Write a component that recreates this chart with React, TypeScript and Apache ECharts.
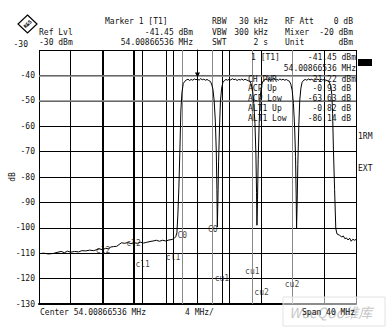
import React, { useEffect, useRef } from "react";
import * as echarts from "echarts";

// ---- data (frequency offset from centre in MHz, level in dBm) ----
const yTicks = [-130, -120, -110, -100, -90, -80, -70, -60, -50, -40, -30];

const noiseLow: [number, number][] = [
  [-20.0, -110.2], [-19.4, -110.0], [-18.8, -110.3], [-18.2, -110.1], [-17.6, -109.6], [-17.2, -109.3],
  [-16.8, -109.8], [-16.4, -109.2], [-16.0, -109.6], [-15.5, -109.3], [-15.0, -109.5], [-14.6, -109.0],
  [-14.1, -109.1], [-13.6, -108.8], [-13.1, -109.0], [-12.8, -108.7], [-12.4, -108.3], [-12.0, -108.6],
  [-11.6, -108.1], [-11.2, -108.3], [-11.0, -107.6], [-10.6, -107.4], [-10.2, -107.3], [-9.9, -106.6],
  [-9.6, -105.9], [-9.2, -106.1], [-8.8, -105.8], [-8.4, -106.2], [-8.0, -105.9], [-7.6, -106.1],
  [-7.2, -105.7], [-6.8, -106.0], [-6.4, -105.7], [-6.0, -105.4], [-5.6, -105.2], [-5.2, -104.9],
  [-4.8, -105.3], [-4.4, -104.9], [-4.0, -105.2], [-3.6, -104.8], [-3.2, -104.6], [-2.95, -104.2],
  [-2.75, -103.5],
];
const carrier1: [number, number][] = [
  [-2.6, -102.0], [-2.48, -95], [-2.35, -84], [-2.22, -69], [-2.1, -54], [-1.97, -47], [-1.8, -43.2],
  [-1.6, -42.3], [-1.4, -41.8], [-1.2, -41.5], [-1.0, -42.0], [-0.8, -41.6], [-0.6, -41.9], [-0.4, -41.4],
  [-0.2, -41.7], [0.0, -41.45], [0.2, -41.9], [0.4, -41.3], [0.6, -41.7], [0.8, -41.5], [1.0, -41.9],
  [1.2, -41.6], [1.4, -42.0], [1.6, -42.3], [1.78, -43.4], [1.95, -45.5], [2.1, -50], [2.25, -58],
  [2.37, -70], [2.45, -85], [2.5, -99.7],
];
const carrier2: [number, number][] = [
  [2.57, -90], [2.66, -74], [2.78, -60], [2.9, -50], [3.05, -45], [3.2, -42.8], [3.4, -42.0], [3.6, -41.6],
  [3.8, -41.9], [4.0, -41.5], [4.2, -41.8], [4.4, -41.3], [4.6, -41.7], [4.8, -41.5], [5.0, -42.0],
  [5.2, -41.6], [5.4, -41.8], [5.6, -41.4], [5.8, -41.9], [6.0, -41.5], [6.2, -41.8], [6.4, -42.1],
  [6.6, -42.4], [6.78, -43.4], [6.95, -45.8], [7.1, -51], [7.25, -59], [7.37, -71], [7.45, -86], [7.5, -99.0],
];
const carrier3: [number, number][] = [
  [7.57, -89], [7.66, -73], [7.78, -59], [7.9, -49], [8.05, -44.6], [8.2, -42.6], [8.4, -41.9], [8.6, -41.5],
  [8.8, -41.8], [9.0, -41.4], [9.2, -41.9], [9.4, -41.6], [9.6, -41.3], [9.8, -41.7], [10.0, -41.5],
  [10.2, -41.9], [10.4, -41.4], [10.6, -41.8], [10.8, -41.5], [11.0, -41.9], [11.2, -41.6], [11.4, -42.0],
  [11.6, -42.3], [11.78, -43.5], [11.95, -46], [12.1, -51], [12.25, -60], [12.37, -72], [12.45, -87],
  [12.5, -100.2],
];
const carrier4: [number, number][] = [
  [12.57, -91], [12.66, -75], [12.78, -60], [12.9, -50], [13.05, -45], [13.2, -42.7], [13.4, -41.9],
  [13.6, -41.6], [13.8, -41.9], [14.0, -41.4], [14.2, -41.8], [14.4, -41.5], [14.6, -41.9], [14.8, -41.4],
  [15.0, -41.7], [15.2, -41.5], [15.4, -41.9], [15.6, -41.5], [15.8, -41.8], [16.0, -41.6], [16.2, -41.9],
  [16.4, -42.0], [16.6, -42.5], [16.8, -44], [16.95, -47.5], [17.05, -55], [17.15, -69], [17.3, -85],
  [17.45, -100.3], [17.6, -102.4],
];
const noiseHigh: [number, number][] = [
  [17.9, -102.9], [18.2, -103.6], [18.4, -103.2], [18.6, -104.3], [18.8, -104.0], [19.0, -104.8],
  [19.2, -104.1], [19.4, -105.3], [19.6, -104.5], [19.8, -104.9], [20.0, -104.6],
];

// channel limit lines (MHz offset) and their colour
const channelLines: [number, string][] = [
  [-11.92, "#000"], [-8.08, "#000"], [-6.92, "#000"], [-3.08, "#000"], [-1.92, "#8a8a8a"], [1.92, "#8a8a8a"],
  [3.08, "#000"], [6.92, "#8a8a8a"], [8.08, "#000"], [11.92, "#8a8a8a"],
];
// channel labels: name, frequency offset, level where drawn
const channelLabels: [string, number, number][] = [
  ["cl2", -11.92, -109.0], ["cl2", -8.08, -106.0], ["cl1", -6.92, -114.3], ["cl1", -3.08, -111.8],
  ["C0", -1.92, -103.2], ["C0", 1.92, -100.7], ["cu1", 3.08, -119.9], ["cu1", 6.92, -117.3],
  ["cu2", 8.08, -125.4], ["cu2", 11.92, -122.5],
];
const displayLines = [-40, -50];
const marker1: [number, number] = [0, -41.45];

const MONO = "'DejaVu Sans Mono', 'Liberation Mono', monospace";

function txt(x: number, y: number, text: string, align: string = "left", extra: any = {}) {
  return {
    type: "text",
    x,
    y,
    z: 10,
    style: {
      text,
      fill: "#111",
      font: `8px ${MONO}`,
      textAlign: align,
      align,
      textVerticalAlign: "middle",
      verticalAlign: "middle",
      ...extra,
    },
  };
}

export default function App() {
  const ref = useRef<HTMLDivElement>(null);
  useEffect(() => {
    if (!ref.current) return;
    const chart = echarts.init(ref.current, null, { renderer: "svg" });
    const trace = [...noiseLow, ...carrier1, ...carrier2, ...carrier3, ...carrier4, ...noiseHigh];
    const option: any = {
      animation: false,
      backgroundColor: "#fff",
      grid: { left: 39, top: 50, width: 317, height: 254, show: false },
      xAxis: {
        type: "value",
        min: -20,
        max: 20,
        interval: 4,
        axisLine: { show: true, onZero: false, lineStyle: { color: "#000", width: 2 } },
        axisTick: { show: false },
        axisLabel: { show: false },
        splitLine: { show: true, lineStyle: { color: "#000", width: 1 } },
      },
      yAxis: {
        type: "value",
        min: yTicks[0],
        max: yTicks[yTicks.length - 1],
        interval: 10,
        axisLine: { show: true, lineStyle: { color: "#000", width: 1 } },
        axisTick: { show: false },
        axisLabel: {
          show: true,
          showMaxLabel: false,
          margin: 4,
          fontSize: 8,
          fontFamily: MONO,
          color: "#111",
        },
        splitLine: { show: true, lineStyle: { color: "#000", width: 1 } },
      },
      series: [
        {
          type: "line",
          data: trace,
          symbol: "none",
          lineStyle: { color: "#000", width: 1 },
          z: 5,
          markLine: {
            silent: true,
            symbol: "none",
            animation: false,
            label: { show: false },
            data: [
              ...channelLines.map(([f, c]) => ({ xAxis: f, lineStyle: { color: c, width: 1, type: "solid" } })),
              ...displayLines.map((v) => ({ yAxis: v, lineStyle: { color: "#8a8a8a", width: 1.5, type: "solid" } })),
            ],
          },
          markPoint: {
            silent: true,
            symbol: "triangle",
            symbolRotate: 180,
            symbolSize: 5,
            symbolOffset: [0, -4],
            itemStyle: { color: "#000" },
            label: { show: false },
            data: [{ coord: marker1 }],
          },
        },
        {
          type: "scatter",
          symbolSize: 0,
          z: 6,
          data: channelLabels.map(([n, f, v]) => ({ name: n, value: [f, v] })),
          label: {
            show: true,
            position: "inside",
            formatter: "{b}",
            fontSize: 8,
            fontFamily: MONO,
            color: "#111",
          },
        },
      ],
      graphic: [
        // logo
        {
          type: "polygon",
          shape: { points: [[27.5, 15], [37, 24], [27.5, 33], [18, 24]] },
          style: { fill: "#fff", stroke: "#000", lineWidth: 1.2 },
        },
        {
          type: "text",
          x: 27.5,
          y: 24,
          rotation: Math.PI / 4,
          style: { text: "R&S", font: `bold 5px ${MONO}`, fill: "#000", textAlign: "center", align: "center", textVerticalAlign: "middle", verticalAlign: "middle" },
        },
        // header
        txt(39, 32, "Ref Lvl"),
        txt(39, 42, "-30 dBm"),
        txt(105, 21, "Marker 1 [T1]"),
        txt(193, 32, "-41.45 dBm", "right"),
        txt(193, 42, "54.00866536 MHz", "right"),
        txt(212, 21, "RBW"),
        txt(212, 32, "VBW"),
        txt(212, 42, "SWT"),
        txt(268, 21, "30 kHz", "right"),
        txt(268, 32, "300 kHz", "right"),
        txt(268, 42, "2 s", "right"),
        txt(285, 21, "RF Att"),
        txt(285, 32, "Mixer"),
        txt(285, 42, "Unit"),
        txt(353, 21, "0 dB", "right"),
        txt(353, 32, "-20 dBm", "right"),
        txt(353, 42, "dBm", "right"),
        // axis extras
        txt(28, 44, "-30", "right"),
        {
          type: "text",
          x: 12,
          y: 177,
          rotation: Math.PI / 2,
          style: { text: "dB", font: `8px ${MONO}`, fill: "#111", textAlign: "center", align: "center", textVerticalAlign: "middle", verticalAlign: "middle" },
        },
        // marker / ACP table overlay
        txt(251, 57, "1 [T1]"),
        txt(356, 57, "-41.45 dBm", "right"),
        txt(356, 68, "54.00866536 MHz", "right"),
        txt(248, 79, "CH PWR"),
        txt(356, 79, "-21.22 dBm", "right"),
        txt(248, 88.5, "ACP Up"),
        txt(351, 88.5, "-0.93 dB", "right"),
        txt(248, 98.5, "ACP Low"),
        txt(351, 98.5, "-63.63 dB", "right"),
        txt(248, 108.5, "ALT1 Up"),
        txt(351, 108.5, "-0.82 dB", "right"),
        txt(248, 118.5, "ALT1 Low"),
        txt(351, 118.5, "-86.14 dB", "right"),
        // right side
        { type: "rect", shape: { x: 358, y: 59, width: 14, height: 7 }, style: { fill: "#000" } },
        txt(358, 136, "1RM"),
        txt(358, 168, "EXT"),
        // watermark
        {
          type: "rect",
          z: 8,
          shape: { x: 283, y: 297, width: 102, height: 29 },
          style: { fill: "rgba(255,255,255,0.55)", stroke: "#e2e2e2", lineWidth: 1 },
        },
        {
          type: "text",
          x: 289,
          y: 312,
          z: 9,
          style: { text: "WeeQoo维库", font: `italic 14px 'Noto Sans CJK SC', 'DejaVu Sans', sans-serif`, fill: "#c8c8c8", textVerticalAlign: "middle", verticalAlign: "middle" },
        },
        // bottom
        txt(40, 312, "Center 54.00866536 MHz"),
        txt(185, 312, "4 MHz/"),
        txt(355, 312, "Span 40 MHz", "right"),
      ],
    };
    chart.setOption(option);
    return () => chart.dispose();
  }, []);
  return (
    <div
      ref={ref}
      style={{ position: "fixed", left: 0, top: 0, width: 386, height: 327, background: "#fff" }}
    />
  );
}
